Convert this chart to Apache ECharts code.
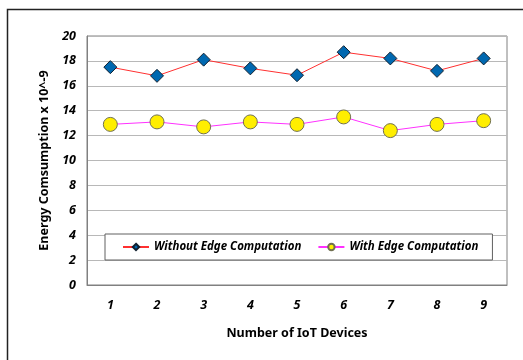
<!DOCTYPE html>
<html>
<head>
<meta charset="utf-8">
<script src="https://cdn.jsdelivr.net/npm/echarts@6/dist/echarts.min.js"></script>
<style>
html, body { margin: 0; padding: 0; background: #fff; }
#main { width: 523px; height: 360px; }
</style>
</head>
<body>
<div id="main"></div>
<script>
// data
const devices = ['1', '2', '3', '4', '5', '6', '7', '8', '9'];
const withoutEdge = [17.5, 16.8, 18.1, 17.4, 16.85, 18.7, 18.2, 17.2, 18.2];
const withEdge = [12.9, 13.1, 12.7, 13.1, 12.9, 13.5, 12.4, 12.9, 13.2];

const chart = echarts.init(document.getElementById('main'));

const tickFont = {
    color: '#000',
    fontStyle: 'italic',
    fontWeight: 'bold',
    fontSize: 12.5,
    fontFamily: 'Noto Sans'
};

let option = {
    animation: false,
    graphic: [
        {
            type: 'rect',
            left: 5, top: 7,
            shape: { width: 540, height: 380 },
            style: { fill: 'none', stroke: '#222', lineWidth: 1.5 },
            z: -1
        }
    ],
    grid: {
        left: 87, right: 16, top: 36, bottom: 75,
        show: true,
        borderColor: '#808080',
        borderWidth: 1,
        backgroundColor: 'transparent'
    },
    legend: {
        left: 105, top: 234,
        padding: [7, 14, 7, 17],
        itemGap: 16,
        itemWidth: 26,
        itemHeight: 8,
        borderColor: '#606060',
        borderWidth: 1,
        backgroundColor: '#fff',
        textStyle: {
            color: '#000',
            fontStyle: 'italic',
            fontWeight: 'bold',
            fontSize: 11.5,
            fontFamily: 'Noto Sans'
        },
        data: ['Without Edge Computation', 'With Edge Computation']
    },
    xAxis: {
        type: 'category',
        data: devices,
        boundaryGap: true,
        name: 'Number of IoT Devices',
        nameLocation: 'middle',
        nameGap: 42,
        nameTextStyle: { color: '#000', fontWeight: 'bold', fontSize: 12.5, fontFamily: 'Noto Sans' },
        axisLine: { lineStyle: { color: '#808080', width: 1 } },
        axisTick: { inside: true, length: 4, lineStyle: { color: '#555' } },
        axisLabel: Object.assign({ margin: 14 }, tickFont),
        splitLine: { show: false }
    },
    yAxis: {
        type: 'value',
        min: 0, max: 20, interval: 2,
        name: 'Energy Comsumption x 10^-9',
        nameLocation: 'middle',
        nameGap: 36,
        nameTextStyle: { color: '#000', fontWeight: 'bold', fontSize: 12.5, fontFamily: 'Noto Sans' },
        axisLine: { show: true, lineStyle: { color: '#808080' } },
        axisTick: { show: false },
        axisLabel: Object.assign({ margin: 11 }, tickFont),
        splitLine: { lineStyle: { color: '#b8b8b8', width: 1 } }
    },
    series: [
        {
            name: 'Without Edge Computation',
            type: 'line',
            data: withoutEdge,
            symbol: 'diamond',
            symbolSize: 13,
            lineStyle: { color: '#ff3030', width: 1 },
            itemStyle: { color: '#0068b0', borderColor: '#102030', borderWidth: 1 }
        },
        {
            name: 'With Edge Computation',
            type: 'line',
            data: withEdge,
            symbol: 'circle',
            symbolSize: 14,
            lineStyle: { color: '#ff30ff', width: 1 },
            itemStyle: { color: '#ffee00', borderColor: '#707050', borderWidth: 1 }
        }
    ]
};

chart.setOption(option);
</script>
</body>
</html>
